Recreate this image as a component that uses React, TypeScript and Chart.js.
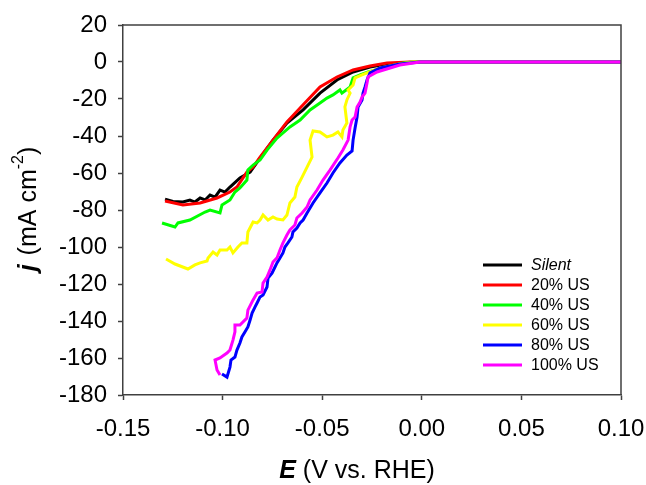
import React, { useEffect, useRef } from "react";
import { Chart, registerables } from "chart.js";

Chart.register(...registerables);

const SERIES_LABELS = ["Silent", "20% US", "40% US", "60% US", "80% US", "100% US"];
const SERIES_COLORS = ["#000000", "#ff0000", "#00ff00", "#ffff00", "#0000ff", "#ff00ff"];
const X_TICKS = [-0.15, -0.1, -0.05, 0, 0.05, 0.1];
const Y_TICKS = [20, 0, -20, -40, -60, -80, -100, -120, -140, -160, -180];
const X_TITLE_BOLD = "E";
const X_TITLE_REST = " (V vs. RHE)";
const Y_TITLE_BOLD = "j";
const Y_TITLE_REST = " (mA cm";
const Y_TITLE_SUP = "-2";
const Y_TITLE_END = ")";

// [E (V vs RHE), j (mA cm-2)]
const SILENT: number[][] = [
  [-0.1289, -74.1], [-0.1249, -75.4], [-0.1199, -75.7], [-0.1164, -74.6], [-0.1139, -75.7],
  [-0.1113, -73.5], [-0.1088, -74.6], [-0.1063, -71.9], [-0.1038, -73.0], [-0.1013, -69.2],
  [-0.0988, -70.3], [-0.0963, -67.6], [-0.0913, -62.7], [-0.0862, -59.5], [-0.0812, -51.9],
  [-0.0747, -42.2], [-0.0677, -33.0], [-0.0596, -25.9], [-0.0511, -16.8], [-0.0426, -9.7],
  [-0.0345, -5.4], [-0.026, -2.7], [-0.0175, -1.1], [-0.0094, -0.5], [-0.0009, 0], [0.1, 0],
];
const US20: number[][] = [
  [-0.1289, -75.1], [-0.1199, -77.3], [-0.1113, -76.2], [-0.1028, -73.5], [-0.0963, -70.3],
  [-0.0928, -67.6], [-0.0878, -59.5], [-0.0847, -56.8], [-0.0812, -51.4], [-0.0747, -42.2],
  [-0.0677, -32.4], [-0.0611, -24.9], [-0.0511, -13.5], [-0.0426, -8.1], [-0.0345, -4.3],
  [-0.026, -2.2], [-0.0175, -0.5], [-0.0059, 0], [0.1, 0],
];
const US40: number[][] = [
  [-0.1304, -87.0], [-0.1239, -89.2], [-0.1224, -87.0], [-0.1164, -85.4], [-0.1088, -81.1],
  [-0.1063, -80.0], [-0.1013, -81.6], [-0.1003, -77.3], [-0.0963, -74.6], [-0.0938, -70.3],
  [-0.0913, -68.1], [-0.0878, -63.8], [-0.0873, -58.4], [-0.0847, -55.7], [-0.0812, -53.0],
  [-0.0777, -47.6], [-0.0727, -41.1], [-0.0662, -35.1], [-0.0611, -31.4], [-0.0561, -25.9],
  [-0.0511, -22.2], [-0.0476, -19.5], [-0.0446, -17.8], [-0.0411, -15.1], [-0.0401, -16.8],
  [-0.036, -13.5], [-0.0345, -8.6], [-0.031, -7.0], [-0.027, -5.4], [-0.0175, -2.7],
  [-0.0094, -0.5], [-0.0044, 0], [0.1, 0],
];
const US60: number[][] = [
  [-0.1284, -106.5], [-0.1239, -109.2], [-0.1174, -111.9], [-0.1139, -109.7], [-0.1113, -108.6],
  [-0.1078, -107.6], [-0.1073, -105.9], [-0.1048, -102.7], [-0.1028, -104.3], [-0.1013, -101.6],
  [-0.0978, -101.6], [-0.0963, -100.0], [-0.0948, -103.2], [-0.0923, -100.0], [-0.0903, -97.8],
  [-0.0878, -97.8], [-0.0873, -91.9], [-0.0847, -86.5], [-0.0827, -87.0], [-0.0812, -85.4],
  [-0.0797, -82.7], [-0.0772, -85.4], [-0.0747, -83.8], [-0.0727, -84.9], [-0.0697, -85.4],
  [-0.0677, -82.7], [-0.0662, -76.2], [-0.0637, -73.0], [-0.0627, -67.6], [-0.0601, -62.2],
  [-0.0576, -56.8], [-0.0551, -51.4], [-0.0561, -42.2], [-0.0546, -37.3], [-0.0511, -37.8],
  [-0.0476, -40.5], [-0.0446, -39.5], [-0.0421, -37.8], [-0.0401, -40.5], [-0.0396, -36.8],
  [-0.0376, -33.0], [-0.0386, -24.3], [-0.0376, -20.5], [-0.036, -16.8], [-0.037, -15.1],
  [-0.0345, -12.4], [-0.0335, -8.6], [-0.03, -7.0], [-0.0275, -5.9], [-0.021, -3.2],
  [-0.011, -1.1], [-0.0044, 0], [0.1, 0],
];
const US80: number[][] = [
  [-0.1003, -168.6], [-0.0978, -170.3], [-0.0963, -164.9], [-0.0958, -161.1], [-0.0938, -159.5],
  [-0.0928, -155.7], [-0.0913, -151.9], [-0.0903, -148.6], [-0.0888, -145.9], [-0.0873, -143.2],
  [-0.0862, -139.5], [-0.0852, -135.7], [-0.0837, -132.4], [-0.0827, -130.3], [-0.0812, -127.0],
  [-0.0797, -125.9], [-0.0777, -121.6], [-0.0772, -116.8], [-0.0752, -114.1], [-0.0737, -110.8],
  [-0.0727, -108.6], [-0.0712, -105.9], [-0.0697, -103.2], [-0.0687, -100.0], [-0.0672, -97.8],
  [-0.0652, -94.6], [-0.0647, -91.9], [-0.0627, -89.7], [-0.0611, -87.0], [-0.0596, -85.4],
  [-0.0576, -81.6], [-0.0546, -76.2], [-0.0511, -70.8], [-0.0476, -65.4], [-0.0446, -60.0],
  [-0.0411, -54.6], [-0.0376, -50.3], [-0.035, -48.1], [-0.0345, -42.2], [-0.0335, -35.7],
  [-0.0325, -29.7], [-0.032, -24.3], [-0.03, -20.5], [-0.0295, -16.8], [-0.0285, -13.5],
  [-0.0275, -9.7], [-0.026, -5.9], [-0.021, -3.2], [-0.011, -1.1], [-0.0009, 0], [0.1, 0],
];
const US100: number[][] = [
  [-0.1013, -169.2], [-0.1028, -166.5], [-0.1038, -161.1], [-0.1013, -160.0], [-0.0978, -157.3],
  [-0.0963, -155.7], [-0.0948, -150.3], [-0.0938, -145.9], [-0.0938, -142.2], [-0.0913, -142.2],
  [-0.0878, -138.4], [-0.0873, -134.1], [-0.0847, -128.6], [-0.0827, -124.9], [-0.0802, -124.3],
  [-0.0797, -119.5], [-0.0777, -116.2], [-0.0762, -112.4], [-0.0747, -108.1], [-0.0727, -105.9],
  [-0.0712, -101.6], [-0.0697, -97.8], [-0.0677, -93.5], [-0.0662, -90.8], [-0.0637, -88.1],
  [-0.0627, -84.3], [-0.0601, -81.6], [-0.0576, -78.4], [-0.0561, -74.6], [-0.0526, -69.2],
  [-0.0496, -63.8], [-0.0461, -58.4], [-0.0421, -51.9], [-0.0396, -47.6], [-0.037, -42.2],
  [-0.036, -35.1], [-0.035, -31.4], [-0.0335, -29.7], [-0.0325, -24.3], [-0.031, -21.6],
  [-0.03, -18.9], [-0.0285, -16.8], [-0.0275, -11.4], [-0.027, -8.1], [-0.0225, -5.4],
  [-0.011, -1.6], [-0.0009, 0], [0.1, 0],
];
const SERIES = [SILENT, US20, US40, US60, US80, US100];

const FONT = "'Liberation Sans', Arial, sans-serif";
const AXIS_COLOR = "#404040";

const decorPlugin = {
  id: "decor",
  afterDraw(chart: any) {
    const { ctx, chartArea: a } = chart;
    ctx.save();
    // frame top and right
    ctx.strokeStyle = AXIS_COLOR;
    ctx.lineWidth = 1.5;
    ctx.beginPath();
    ctx.moveTo(a.left, a.top);
    ctx.lineTo(a.right, a.top);
    ctx.lineTo(a.right, a.bottom);
    ctx.stroke();

    // legend
    ctx.textBaseline = "middle";
    ctx.textAlign = "left";
    SERIES_LABELS.forEach((lab, i) => {
      const y = 265 + i * 20;
      ctx.strokeStyle = SERIES_COLORS[i];
      ctx.lineWidth = 3;
      ctx.beginPath();
      ctx.moveTo(483, y);
      ctx.lineTo(522, y);
      ctx.stroke();
      ctx.fillStyle = "#000";
      ctx.font = (i === 0 ? "italic " : "") + "16px " + FONT;
      ctx.fillText(lab, 531, y + 1);
    });

    // x title
    ctx.fillStyle = "#000";
    const bold = "italic bold 25px " + FONT;
    const norm = "25px " + FONT;
    ctx.font = bold;
    const w1 = ctx.measureText(X_TITLE_BOLD).width;
    ctx.font = norm;
    const w2 = ctx.measureText(X_TITLE_REST).width;
    let x0 = 357 - (w1 + w2) / 2;
    ctx.font = bold;
    ctx.fillText(X_TITLE_BOLD, x0, 471);
    ctx.font = norm;
    ctx.fillText(X_TITLE_REST, x0 + w1, 471);

    // y title
    ctx.translate(29, 210);
    ctx.rotate(-Math.PI / 2);
    const sup = "16px " + FONT;
    ctx.font = bold;
    const v1 = ctx.measureText(Y_TITLE_BOLD).width;
    ctx.font = norm;
    const v2 = ctx.measureText(Y_TITLE_REST).width;
    const v4 = ctx.measureText(Y_TITLE_END).width;
    ctx.font = sup;
    const v3 = ctx.measureText(Y_TITLE_SUP).width;
    let s = -(v1 + v2 + v3 + v4) / 2;
    ctx.font = bold;
    ctx.fillText(Y_TITLE_BOLD, s, 0);
    s += v1 + 2;
    ctx.font = norm;
    ctx.fillText(Y_TITLE_REST, s, 0);
    s += v2;
    ctx.font = sup;
    ctx.fillText(Y_TITLE_SUP, s, -10);
    s += v3;
    ctx.font = norm;
    ctx.fillText(Y_TITLE_END, s, 0);
    ctx.restore();
  },
};

export default function App() {
  const ref = useRef<HTMLCanvasElement>(null);
  useEffect(() => {
    if (!ref.current) return;
    const chart = new Chart(ref.current, {
      type: "line",
      data: {
        datasets: SERIES.map((pts, i) => ({
          label: SERIES_LABELS[i],
          data: pts.map(([x, y]) => ({ x, y })),
          borderColor: SERIES_COLORS[i],
          backgroundColor: SERIES_COLORS[i],
          borderWidth: 3,
          pointRadius: 0,
          tension: 0,
          fill: false,
          order: SERIES.length - i,
        })),
      },
      options: {
        responsive: false,
        animation: false,
        devicePixelRatio: 1,
        layout: { padding: { left: 0, top: 25, right: 25, bottom: 0 } },
        plugins: { legend: { display: false }, tooltip: { enabled: false } },
        scales: {
          x: {
            type: "linear",
            min: -0.15,
            max: 0.1,
            afterBuildTicks: (sc: any) => {
              sc.ticks = X_TICKS.map((v) => ({ value: v }));
            },
            afterFit: (sc: any) => {
              sc.height = 90;
              sc.paddingLeft = 0;
              sc.paddingRight = 0;
            },
            ticks: {
              autoSkip: false,
              maxRotation: 0,
              color: "#000",
              font: { family: FONT, size: 24 },
              padding: 15,
              callback: (v: any) => Number(v).toFixed(2),
            },
            grid: {
              drawOnChartArea: false,
              drawTicks: true,
              tickLength: 5,
              tickColor: AXIS_COLOR,
              tickWidth: 1.5,
            },
            border: { display: true, color: AXIS_COLOR, width: 1.5 },
          },
          y: {
            type: "linear",
            min: -180,
            max: 20,
            afterBuildTicks: (sc: any) => {
              sc.ticks = Y_TICKS.map((v) => ({ value: v }));
            },
            afterFit: (sc: any) => {
              sc.width = 123;
              sc.paddingTop = 0;
              sc.paddingBottom = 0;
            },
            ticks: {
              autoSkip: false,
              color: "#000",
              font: { family: FONT, size: 24 },
              padding: 11,
              callback: (v: any) => String(v),
            },
            grid: {
              drawOnChartArea: false,
              drawTicks: true,
              tickLength: 5,
              tickColor: AXIS_COLOR,
              tickWidth: 1.5,
            },
            border: { display: true, color: AXIS_COLOR, width: 1.5 },
          },
        },
      },
      plugins: [decorPlugin],
    } as any);
    return () => chart.destroy();
  }, []);
  return (
    <div style={{ position: "fixed", left: 0, top: 0, width: 646, height: 485, background: "#fff" }}>
      <canvas ref={ref} width={646} height={485} />
    </div>
  );
}
